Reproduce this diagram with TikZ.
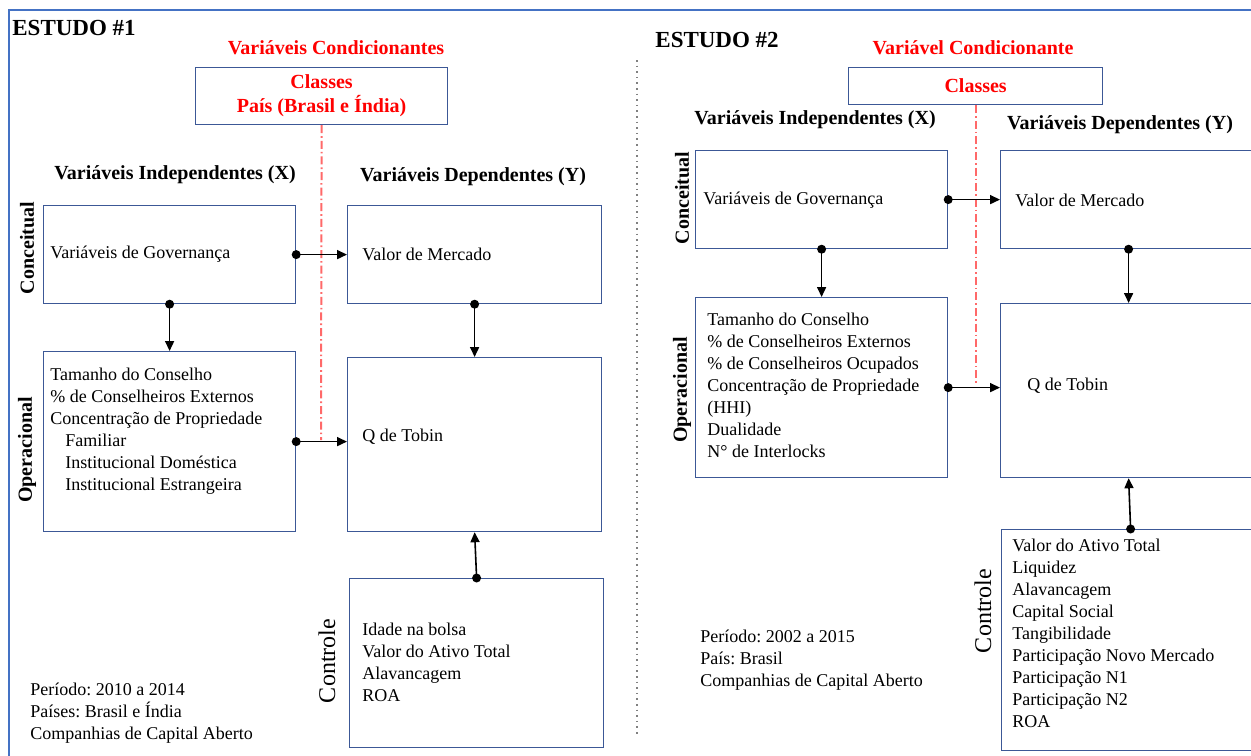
\documentclass[tikz,border=0pt]{standalone}
\usepackage{fontspec}
\setmainfont{Liberation Serif}
\usetikzlibrary{arrows.meta, positioning, calc}
\definecolor{framblue}{RGB}{68,114,196}
\definecolor{boxblue}{RGB}{60,88,150}
\definecolor{condred}{RGB}{255,0,0}
\definecolor{axisred}{RGB}{255,105,105}
\frenchspacing
\tikzset{
  box/.style={draw=boxblue, line width=0.6pt, anchor=north west, inner sep=0pt},
  txt/.style={anchor=west, align=left, inner sep=0pt, font=\fontsize{9}{11}\selectfont},
  hdr/.style={inner sep=0pt, font=\fontsize{10}{12}\selectfont\bfseries},
  cond/.style={hdr, text=condred, align=center},
  side/.style={rotate=90, inner sep=0pt, font=\fontsize{10}{12}\selectfont\bfseries},
  ctl/.style={rotate=90, inner sep=0pt, font=\fontsize{12}{14}\selectfont},
  titl/.style={anchor=west, inner sep=0pt, font=\fontsize{11.5}{14}\selectfont\bfseries},
  dot/.style={circle, fill, inner sep=0pt, minimum size=4.5pt},
  conn/.style={draw, line width=0.8pt, -{Triangle[length=5pt,width=4.5pt]}},
  axis/.style={draw=axisred, line width=1pt, dash pattern=on 4pt off 1.5pt on 0.8pt off 1.5pt}
}
\begin{document}
\begin{tikzpicture}[x=0.5pt, y=-0.5pt]
    \useasboundingbox (0,0) rectangle (1251,755);
    \clip (0,0) rectangle (1251,755);
    \fill[white] (0,0) rectangle (1251,755);
    \draw[framblue, line width=1.2pt] (9,765) -- (9,10) -- (1265,10);
    \draw[gray, dotted, line width=0.8pt] (637,60) -- (637,737);

    % ESTUDO #1
    \node[titl] (t1) at (12,28) {ESTUDO \#1};
    \node[cond] (c1) at (336,48) {Variáveis Condicionantes};
    \node[box, minimum width=126pt, minimum height=28.5pt, cond] (cls1) at (195,67) {Classes\\País (Brasil e Índia)};
    \node[hdr] (x1) at (175,175) {Variáveis Independentes (X)};
    \node[hdr] (y1) at (473,177) {Variáveis Dependentes (Y)};

    \node[box, minimum width=126pt, minimum height=49pt] (gov1) at (43,205) {};
    \node[box, minimum width=127pt, minimum height=49pt] (vm1) at (347,205) {};
    \node[box, minimum width=126pt, minimum height=90pt] (oper1) at (43,351) {};
    \node[box, minimum width=127pt, minimum height=87pt] (q1) at (347,357) {};
    \node[box, minimum width=127pt, minimum height=84.5pt] (ctrl1) at (349,578) {};

    \node[txt] (gov1t) at (50,254) {Variáveis de Governança};
    \node[txt] (vm1t) at (362,254) {Valor de Mercado};
    \node[txt] (oper1t) at (50,431) {Tamanho do Conselho\\\% de Conselheiros Externos\\Concentração de Propriedade\\
      \hspace*{7.5pt}Familiar\\\hspace*{7.5pt}Institucional Doméstica\\\hspace*{7.5pt}Institucional Estrangeira};
    \node[txt] (q1t) at (362,437) {Q de Tobin};
    \node[txt] (ctrl1t) at (362,662) {Idade na bolsa\\Valor do Ativo Total\\Alavancagem\\ROA};
    \node[txt] (nota1) at (30,713.5) {Período: 2010 a 2014\\Países: Brasil e Índia\\Companhias de Capital Aberto};

    \node[side] (s1a) at (27,248) {Conceitual};
    \node[side] (s1b) at (27,450) {Operacional};
    \node[ctl] (s1c) at (327,661) {Controle};

    \coordinate (ax1) at (321,440);
    \draw[axis] (cls1.south) -- (ax1);

    \draw[conn] (gov1.east) node[dot] {} -- (vm1.west);
    \draw[conn] (gov1.south) node[dot] {} -- (oper1.north);
    \draw[conn] (vm1.south) node[dot] {} -- (q1.north);
    \draw[conn] (oper1.east) node[dot] {} -- (oper1.east -| q1.west);
    \draw[conn] (ctrl1.north) node[dot] {} -- (q1.south);

    % ESTUDO #2
    \node[titl] (t2) at (655,40) {ESTUDO \#2};
    \node[cond] (c2) at (973,48) {Variável Condicionante};
    \node[box, minimum width=127pt, minimum height=18.5pt, cond] (cls2) at (848,67) {Classes};
    \node[hdr] (x2) at (815,120) {Variáveis Independentes (X)};
    \node[hdr] (y2) at (1120,125) {Variáveis Dependentes (Y)};

    \node[box, minimum width=126pt, minimum height=49pt] (gov2) at (695,150) {};
    \node[box, minimum width=128pt, minimum height=49pt] (vm2) at (1000,150) {};
    \node[box, minimum width=126pt, minimum height=90pt] (oper2) at (695,297) {};
    \node[box, minimum width=128pt, minimum height=87pt] (q2) at (1000,303) {};
    \node[box, minimum width=129pt, minimum height=110.5pt] (ctrl2) at (1001,529) {};

    \node[txt] (gov2t) at (703,200) {Variáveis de Governança};
    \node[txt] (vm2t) at (1015,200) {Valor de Mercado};
    \node[txt] (oper2t) at (707,385) {Tamanho do Conselho\\\% de Conselheiros Externos\\\% de Conselheiros Ocupados\\
      Concentração de Propriedade\\(HHI)\\Dualidade\\N° de Interlocks};
    \node[txt] (q2t) at (1027,386) {Q de Tobin};
    \node[txt] (ctrl2t) at (1012,633) {Valor do Ativo Total\\Liquidez\\Alavancagem\\Capital Social\\Tangibilidade\\
      Participação Novo Mercado\\Participação N1\\Participação N2\\ROA};
    \node[txt] (nota2) at (700,660) {Período: 2002 a 2015\\País: Brasil\\Companhias de Capital Aberto};

    \node[side] (s2a) at (682,198) {Conceitual};
    \node[side] (s2b) at (682,390) {Operacional};
    \node[ctl] (s2c) at (983,611) {Controle};

    \coordinate (ax2) at (cls2.south |- 0,385);
    \draw[axis] (cls2.south) -- (ax2);

    \draw[conn] (gov2.east) node[dot] {} -- (vm2.west);
    \draw[conn] (gov2.south) node[dot] {} -- (oper2.north);
    \draw[conn] (vm2.south) node[dot] {} -- (q2.north);
    \draw[conn] (oper2.east) node[dot] {} -- (oper2.east -| q2.west);
    \draw[conn] (ctrl2.north) node[dot] {} -- (q2.south);
\end{tikzpicture}
\end{document}
